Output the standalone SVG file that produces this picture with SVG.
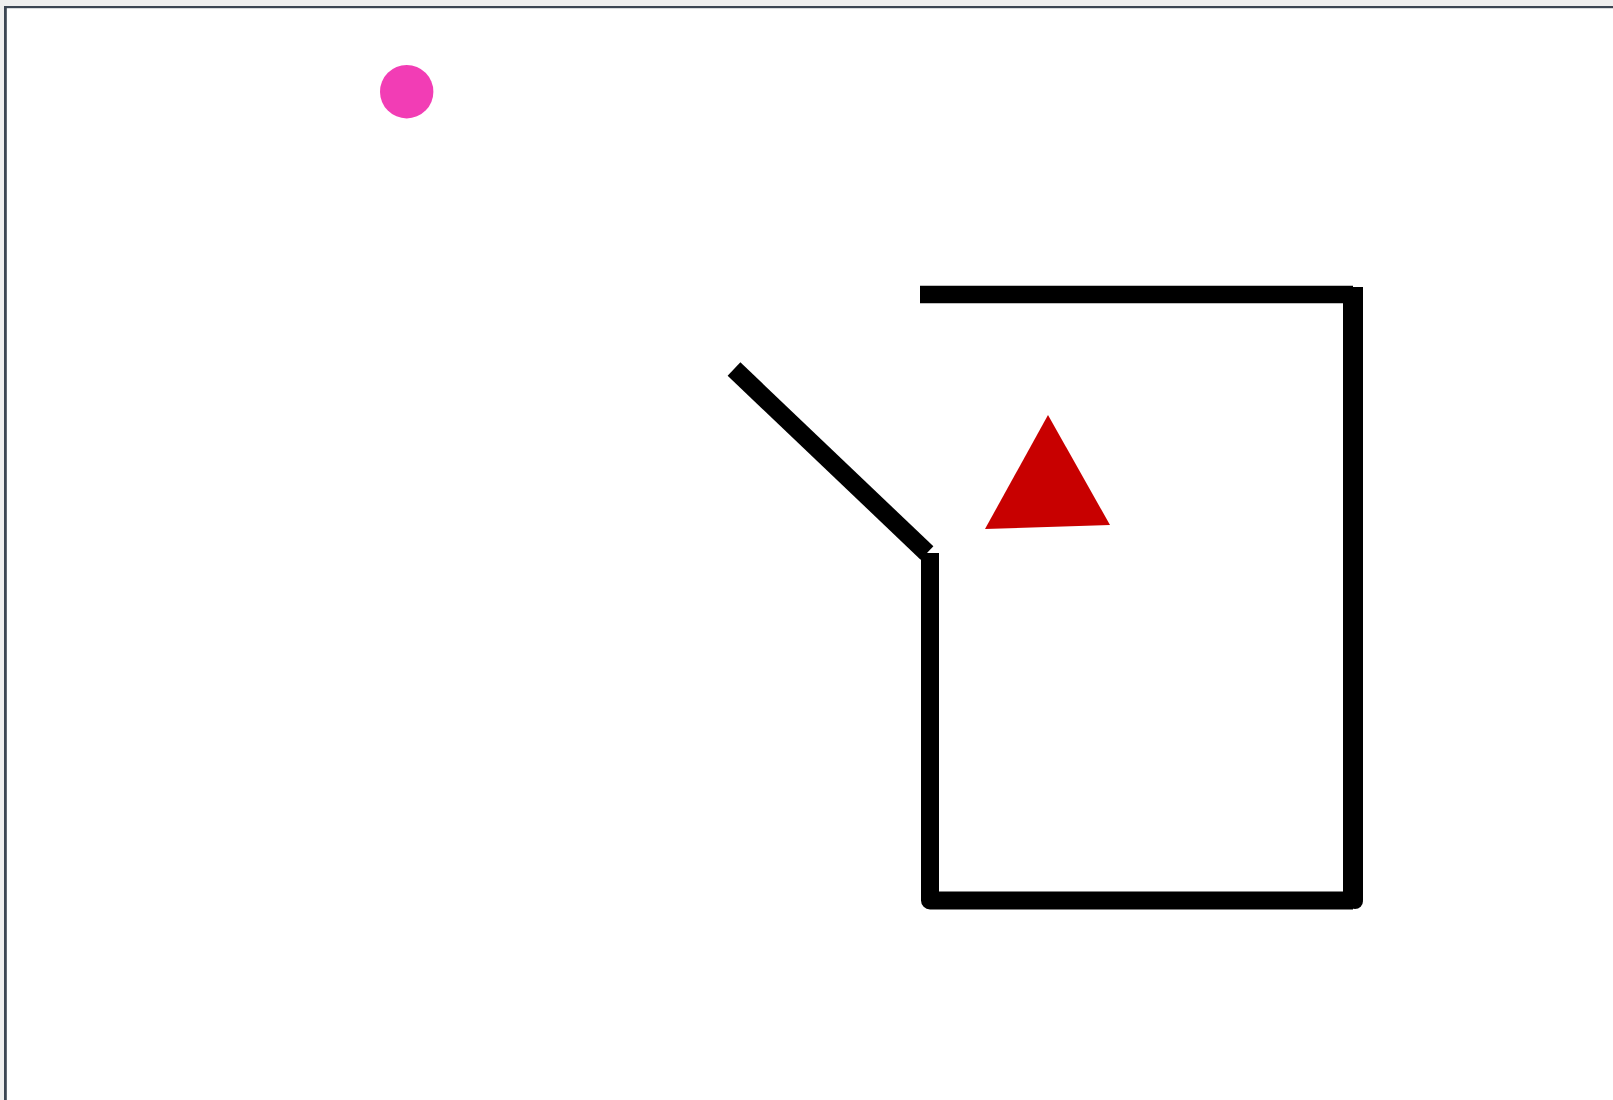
<svg xmlns="http://www.w3.org/2000/svg" width="1613" height="1100" viewBox="0 0 1613 1100">
  <style>
    .wall { stroke: #000; fill: none; stroke-linecap: butt; }
  </style>
  <rect x="0" y="0" width="1613" height="1100" fill="#efefef"/>
  <rect x="4" y="6" width="1609" height="1094" fill="#ffffff"/>
  <rect x="4" y="6" width="1609" height="2.2" fill="#3c4653"/>
  <rect x="4" y="6" width="2.8" height="1094" fill="#3c4653"/>
  <g id="walls">
    <line class="wall" x1="734" y1="369" x2="927" y2="553" stroke-width="18.5"/>
    <path class="wall" d="M930,553 V900.5 H1353" stroke-width="18" stroke-linejoin="round"/>
    <path class="wall" d="M1353,287 V900.5" stroke-width="20"/>
    <path class="wall" d="M1343,900.5 H1353" stroke-width="17" stroke-linejoin="round"/>
    <circle cx="1355" cy="901" r="8" fill="#000"/>
    <line class="wall" x1="920" y1="294.5" x2="1353" y2="294.5" stroke-width="17.5"/>
  </g>
  <g id="dot">
    <circle cx="406.7" cy="91.7" r="26.7" fill="#f23db5"/>
  </g>
  <g id="triangle">
    <polygon points="1048,415 985,529 1110,525" fill="#c80000"/>
  </g>
</svg>
